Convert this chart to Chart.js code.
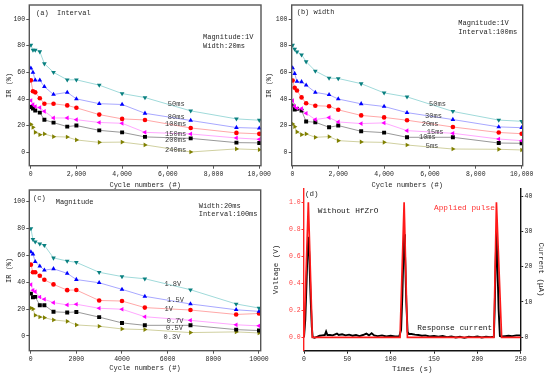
<!DOCTYPE html>
<html><head><meta charset="utf-8">
<script src="https://cdn.jsdelivr.net/npm/chart.js@4/dist/chart.umd.min.js"></script>
<style>
html,body{margin:0;padding:0;background:#fff;}
#wrap{position:relative;width:550px;height:377px;overflow:hidden;background:#fff;}
canvas{position:absolute;}
</style></head><body>
<div id="wrap">
<canvas id="ca" width="275" height="190" style="left:0;top:0;width:275px;height:190px"></canvas>
<canvas id="cb" width="288" height="190" style="left:262px;top:0;width:288px;height:190px"></canvas>
<canvas id="cc" width="275" height="192" style="left:0;top:185px;width:275px;height:192px"></canvas>
<canvas id="cd" width="282" height="192" style="left:268px;top:185px;width:282px;height:192px"></canvas>
</div>
<script>
// ---------- data ----------
const cycles = [10, 100, 200, 400, 600, 1000, 1600, 2000, 3000, 4000, 5000, 7000, 9000, 10000];
const cycleTicks = [0, 2000, 4000, 6000, 8000, 10000];
const irTicks = [0, 20, 40, 60, 80, 100];

// (a) Interval
const interval50  = [80.5, 76.7, 76.7, 75.5, 66.5, 60.0, 54.4, 54.4, 50.4, 44.1, 41.1, 31.1, 25.1, 24.1];
const interval80  = [63.2, 60.0, 54.1, 54.1, 49.2, 43.4, 45.0, 40.1, 36.5, 35.9, 29.3, 23.9, 18.6, 18.1];
const interval100 = [54.0, 45.8, 45.0, 40.6, 36.5, 36.4, 35.2, 33.4, 28.3, 25.1, 24.3, 18.3, 14.6, 13.9];
const interval150 = [38.9, 35.9, 34.4, 33.6, 30.8, 25.8, 25.8, 24.5, 22.4, 21.8, 15.0, 13.8, 10.8, 9.8];
const interval200 = [34.0, 32.9, 31.4, 29.8, 24.4, 22.3, 19.3, 20.1, 16.5, 15.0, 11.6, 10.5, 7.3, 7.1];
const interval240 = [21.0, 18.8, 15.0, 13.2, 13.8, 11.8, 11.5, 9.3, 7.5, 7.7, 5.6, 0.3, 2.6, 2.0];

// (b) width
const width50 = [80.5, 77.5, 75.4, 73.2, 68.0, 61.0, 55.7, 55.4, 51.5, 44.6, 41.6, 30.7, 24.2, 23.3];
const width30 = [63.3, 59.1, 53.2, 52.9, 50.4, 45.0, 43.2, 40.0, 36.4, 34.4, 29.8, 24.6, 19.1, 18.5];
const width20 = [53.9, 48.4, 46.4, 41.2, 36.8, 35.0, 34.6, 31.9, 27.7, 26.2, 24.1, 19.0, 14.9, 14.0];
const width15 = [38.8, 34.6, 33.1, 32.8, 29.3, 24.6, 26.1, 22.8, 21.6, 22.1, 16.3, 14.3, 10.0, 8.8];
const width10 = [35.1, 32.1, 32.6, 31.3, 23.1, 22.6, 18.8, 20.1, 15.8, 14.8, 11.3, 11.3, 7.0, 6.8];
const width5  = [21.3, 19.3, 15.3, 13.3, 13.8, 11.3, 11.8, 8.8, 7.8, 7.5, 5.5, 2.5, 2.3, 1.8];

// (c) Magnitude
const mag18 = [79.9, 72.0, 70.1, 68.6, 67.5, 58.1, 55.8, 54.8, 47.4, 44.2, 42.6, 34.4, 23.8, 20.8];
const mag15 = [62.6, 61.0, 55.3, 52.0, 49.0, 50.0, 46.6, 42.0, 39.6, 34.7, 29.5, 23.8, 19.5, 18.3];
const mag10 = [53.1, 47.4, 47.4, 44.8, 41.8, 38.4, 34.1, 34.2, 26.4, 26.0, 21.1, 19.3, 16.0, 16.7];
const mag07 = [38.2, 34.0, 33.0, 29.0, 27.3, 24.8, 23.1, 23.6, 20.6, 19.9, 14.3, 11.6, 8.3, 7.5];
const mag05 = [31.5, 28.8, 29.1, 22.9, 22.9, 18.0, 17.5, 17.9, 14.0, 9.7, 7.9, 7.9, 4.7, 4.0];
const mag03 = [20.8, 20.1, 15.4, 14.1, 13.6, 11.9, 10.9, 8.2, 7.2, 5.2, 4.7, 2.5, 3.0, 2.2];

// (d) pulse and response
const pulseTime = [0, 5, 9.6, 110.8, 115.5, 119.3, 219, 222, 228, 250];
const pulseVolt = [0, 1, 0, 0, 1, 0, 0, 1, 0, 0];
const currentTime = [0, 1.5, 3, 4, 5, 6, 7.5, 9, 10, 12, 15, 18, 21, 24, 25.5, 27, 30, 33, 36, 38,
  40, 44, 48, 52, 56, 60, 64, 68, 72, 75, 78, 81, 85, 90, 95, 100, 105, 110, 112, 113.5,
  114.5, 115.5, 116.5, 118, 119.5, 121, 124, 128, 132, 136, 140, 145, 150, 155, 160, 165, 170, 175, 180, 185,
  190, 195, 200, 205, 210, 215, 219, 220, 221, 222, 223, 224.5, 226, 228, 232, 236, 240, 245, 250];
const currentUA = [0, 5, 16, 24, 28.5, 24, 12, 3, 0, -0.2, 0.1, 0.4, 0.5, 0.6, 1.6, 0.6, 0.6, 0.5, 0.8, 1.0,
  0.6, 0.8, 0.5, 0.7, 0.4, 0.6, 0.3, 0.6, 1.0, 0.5, 1.1, 0.5, 0.3, 0.5, 0.2, 0.4, 0.2, 0.3, 2, 12,
  22, 29.2, 24, 10, 1.5, 0.9, 0.9, 0.7, 0.6, 0.4, 0.5, 0.2, 0.3, 0.1, 0.3, 0, 0.2, -0.1, 0.1, -0.2,
  0.1, 0, 0.2, -0.1, 0.1, 0, 0.1, 8, 20, 29.9, 22, 8, 0.3, 0.2, 0.3, 0.4, 0.3, 0.5, 0.5];
const timeTicks = [0, 50, 100, 150, 200, 250];
const voltTicks = [0, 0.2, 0.4, 0.6, 0.8, 1.0];
const currentTicks = [0, 10, 20, 30, 40];

// ---------- styling ----------
const FONT = "'Liberation Mono', 'DejaVu Sans Mono', monospace";
const TXT = '#262626';
const STY = [
  {mk:'#0a8080', ln:'#a0dada', ps:'triangle', rot:180, r:2.7},
  {mk:'#0000ff', ln:'#a8a8ff', ps:'triangle', rot:0,   r:2.7},
  {mk:'#ff0000', ln:'#ffa8a8', ps:'circle',   rot:0,   r:2.3},
  {mk:'#ff00ff', ln:'#ffa8ff', ps:'triangle', rot:-90, r:2.7},
  {mk:'#000000', ln:'#999999', ps:'rect',     rot:0,   r:2.8},
  {mk:'#808000', ln:'#d0d0a0', ps:'triangle', rot:90,  r:2.7}
];

Chart.defaults.animation = false;
Chart.defaults.font.family = FONT;

const notesPlugin = {
  id: 'notes',
  afterDatasetsDraw(chart, args, o) {
    const {ctx, chartArea: ca, scales} = chart;
    ctx.save();
    if (o.frame) {
      ctx.strokeStyle = o.frame.color; ctx.lineWidth = o.frame.width;
      ctx.strokeRect(ca.left, ca.top, ca.right - ca.left, ca.bottom - ca.top);
    }
    ctx.textBaseline = 'middle';
    (o.items || []).forEach(it => {
      const x = it.data ? scales.x.getPixelForValue(it.x) : ca.left + it.x;
      const y = it.data ? scales[it.yAxis || 'y'].getPixelForValue(it.y) : ca.top + it.y;
      ctx.font = (it.size || 7) + 'px ' + FONT;
      ctx.fillStyle = it.color || TXT;
      ctx.textAlign = it.align || 'left';
      ctx.fillText(it.text, x, y);
    });
    ctx.restore();
  }
};

function series(label, vals, s) {
  return {
    label, showLine: true, tension: 0,
    data: cycles.map((c, i) => ({x: c, y: vals[i]})),
    borderColor: s.ln, borderWidth: 1,
    pointStyle: s.ps, rotation: s.rot, pointRadius: s.r,
    pointBackgroundColor: s.mk, pointBorderColor: s.mk, pointBorderWidth: 0
  };
}

function fixBox(prop, val) {
  return s => { s[prop] = val; s.paddingLeft = 0; s.paddingRight = 0; s.paddingTop = 0; s.paddingBottom = 0; };
}

function cyclePanel(id, sets, labels, notes, cfg) {
  const items = notes.concat(labels.map(l => ({data: true, x: l[1], y: l[2], text: l[0], color: '#3a3a3a', size: 7})));
  new Chart(document.getElementById(id), {
    type: 'scatter',
    data: {datasets: sets},
    options: {
      responsive: false, devicePixelRatio: 1,
      layout: {padding: cfg.pad},
      plugins: {legend: {display: false}, tooltip: {enabled: false},
        notes: {frame: {color: '#555', width: 1.4}, items}},
      scales: {
        x: {
          type: 'linear', min: cfg.xmin, max: cfg.xmax,
          afterBuildTicks: s => { s.ticks = cycleTicks.map(v => ({value: v})); },
          afterFit: fixBox('height', cfg.xh),
          grid: {drawOnChartArea: false, tickLength: 3, color: '#555', lineWidth: 1},
          border: {display: false},
          ticks: {font: {size: 6.5}, color: TXT, padding: 1.2, maxRotation: 0, autoSkip: false,
            callback: v => cfg.comma ? Number(v).toLocaleString('en-US') : String(v)},
          title: {display: true, text: 'Cycle numbers (#)', font: {size: 7}, color: TXT,
            padding: {top: 0, bottom: cfg.xtp}}
        },
        y: {
          type: 'linear', min: cfg.ymin, max: cfg.ymax,
          afterBuildTicks: s => { s.ticks = irTicks.map(v => ({value: v})); },
          afterFit: fixBox('width', cfg.yw),
          grid: {drawOnChartArea: false, tickLength: 3, color: '#555', lineWidth: 1},
          border: {display: false},
          ticks: {font: {size: 6.5}, color: TXT, padding: 1.2, autoSkip: false},
          title: {display: true, text: 'IR (%)', font: {size: 7}, color: TXT,
            padding: {top: cfg.ytp, bottom: 0}}
        }
      }
    },
    plugins: [notesPlugin]
  });
}

// (a)
cyclePanel('ca',
  [series('50ms', interval50, STY[0]), series('80ms', interval80, STY[1]), series('100ms', interval100, STY[2]),
   series('150ms', interval150, STY[3]), series('200ms', interval200, STY[4]), series('240ms', interval240, STY[5])],
  [['50ms', 6000, 36.2], ['80ms', 6000, 26.3], ['100ms', 5880, 20.8], ['150ms', 5880, 13.8], ['200ms', 5880, 9.0], ['240ms', 5880, 1.5]],
  [{x: 6.7, y: 7.7, text: '(a)  Interval'}, {x: 173.7, y: 32.3, text: 'Magnitude:1V'}, {x: 173.7, y: 41, text: 'Width:20ms'}],
  {pad: {left: 0, top: 5, right: 14, bottom: 0}, xmin: -60, xmax: 10075, ymin: -10, ymax: 110.5,
   xh: 24.3, yw: 29.3, xtp: 0.9, ytp: 5.3, comma: true});

// (b)
cyclePanel('cb',
  [series('50ms', width50, STY[0]), series('30ms', width30, STY[1]), series('20ms', width20, STY[2]),
   series('15ms', width15, STY[3]), series('10ms', width10, STY[4]), series('5ms', width5, STY[5])],
  [['50ms', 5960, 35.9], ['30ms', 5785, 27.0], ['20ms', 5640, 20.8], ['15ms', 5860, 15.0], ['10ms', 5520, 11.3], ['5ms', 5815, 4.3]],
  [{x: 5, y: 6.7, text: '(b) width'}, {x: 166.6, y: 18.3, text: 'Magnitude:1V'}, {x: 166.6, y: 27.3, text: 'Interval:100ms'}],
  {pad: {left: 0, top: 5, right: 27.3, bottom: 0}, xmin: -30, xmax: 10045, ymin: -10, ymax: 110.5,
   xh: 24.3, yw: 29.7, xtp: 0.9, ytp: 2.8, comma: true});

// (c)
cyclePanel('cc',
  [series('1.8V', mag18, STY[0]), series('1.5V', mag15, STY[1]), series('1V', mag10, STY[2]),
   series('0.7V', mag07, STY[3]), series('0.5V', mag05, STY[4]), series('0.3V', mag03, STY[5])],
  [['1.8V', 5860, 38.5], ['1.5V', 5975, 26.8], ['1V', 5860, 20.1], ['0.7V', 5960, 11.2], ['0.5V', 5930, 5.7], ['0.3V', 5820, -1]],
  [{x: 3.7, y: 8.3, text: '(c)'}, {x: 26.4, y: 11.7, text: 'Magnitude'}, {x: 169.4, y: 16, text: 'Width:20ms'}, {x: 169.4, y: 24.3, text: 'Interval:100ms'}],
  {pad: {left: 0, top: 5, right: 14.3, bottom: 0}, xmin: -60, xmax: 10075, ymin: -11, ymax: 108.7,
   xh: 26.3, yw: 29.3, xtp: 4.5, ytp: 5.3, comma: false});

// (d)
new Chart(document.getElementById('cd'), {
  type: 'scatter',
  data: {datasets: [
    {label: 'Applied pulse', yAxisID: 'yV', showLine: true, tension: 0,
     data: pulseTime.map((t, i) => ({x: t, y: pulseVolt[i]})),
     borderColor: '#ff1a1a', borderWidth: 1.7, pointRadius: 0},
    {label: 'Response current', yAxisID: 'yI', showLine: true, tension: 0,
     data: currentTime.map((t, i) => ({x: t, y: currentUA[i]})),
     borderColor: '#000000', borderWidth: 1.9, pointRadius: 0}
  ]},
  options: {
    responsive: false, devicePixelRatio: 1,
    layout: {padding: {left: 0, top: 3.3, right: 0, bottom: 0}},
    plugins: {legend: {display: false}, tooltip: {enabled: false},
      notes: {items: [
        {x: 1, y: 6, text: '(d)', size: 7.5},
        {x: 13.7, y: 22.7, text: 'Without HfZrO', size: 7.8, color: '#1a1a1a'},
        {x: 130, y: 20, text: 'Applied pulse', size: 7.8, color: '#ff3030'},
        {x: 113.3, y: 139.4, text: 'Response current', size: 7.8, color: '#1a1a1a'}
      ]}},
    scales: {
      x: {
        type: 'linear', min: 0, max: 250,
        afterBuildTicks: s => { s.ticks = timeTicks.map(v => ({value: v})); },
        afterFit: fixBox('height', 26.3),
        grid: {drawOnChartArea: false, tickLength: 3, color: '#222'},
        border: {display: true, color: '#111', width: 1.4},
        ticks: {font: {size: 6.5}, color: TXT, padding: 1.2, maxRotation: 0, autoSkip: false},
        title: {display: true, text: 'Times (s)', font: {size: 7.5}, color: TXT, padding: {top: 0, bottom: 3.2}}
      },
      yV: {
        type: 'linear', position: 'left', min: -0.099, max: 1.104,
        afterBuildTicks: s => { s.ticks = voltTicks.map(v => ({value: v})); },
        afterFit: fixBox('width', 36),
        grid: {drawOnChartArea: false, tickLength: 2.5, color: '#ff3030'},
        border: {display: true, color: '#ff2020', width: 1.4},
        ticks: {font: {size: 6.5}, color: '#ff4040', padding: 0.8, autoSkip: false, callback: v => Number(v).toFixed(1)},
        title: {display: true, text: 'Voltage (V)', font: {size: 7.5}, color: TXT, padding: {top: 3.5, bottom: 0}}
      },
      yI: {
        type: 'linear', position: 'right', min: -3.85, max: 42.25,
        afterBuildTicks: s => { s.ticks = currentTicks.map(v => ({value: v})); },
        afterFit: fixBox('width', 29.3),
        grid: {drawOnChartArea: false, tickLength: 2.5, color: '#222'},
        border: {display: true, color: '#111', width: 1.4},
        ticks: {font: {size: 6.5}, color: TXT, padding: 1.3, autoSkip: false},
        title: {display: true, text: 'Current (μA)', font: {size: 7.5}, color: TXT, padding: {top: 4.5, bottom: 0}}
      }
    }
  },
  plugins: [notesPlugin]
});
</script>
</body></html>
